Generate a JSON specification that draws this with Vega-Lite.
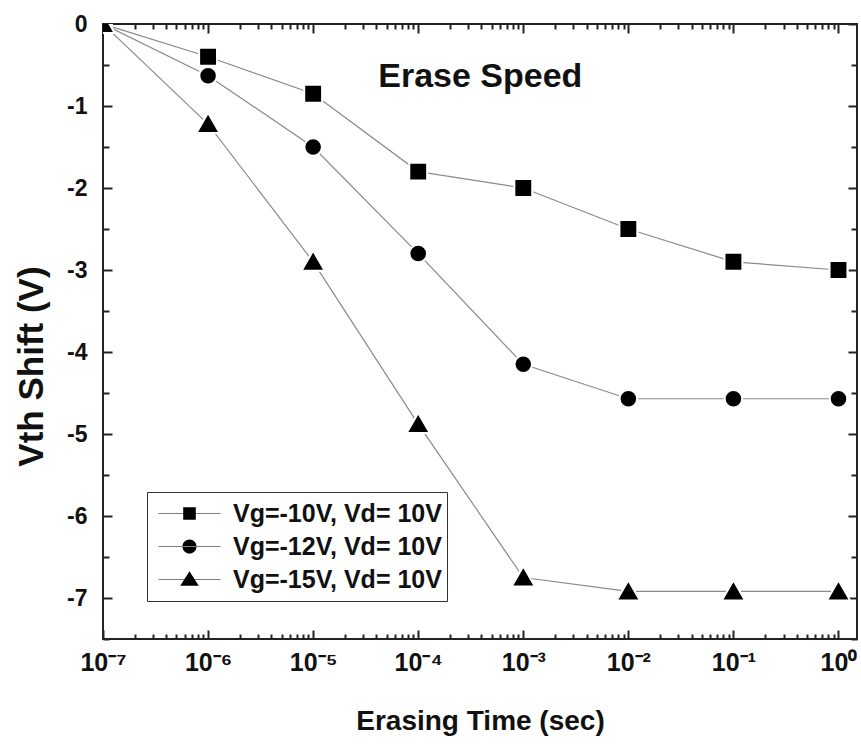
{
  "$schema": "https://vega.github.io/schema/vega-lite/v6.json",
  "width": 754,
  "height": 615,
  "autosize": "none",
  "padding": {"left": 103, "top": 24, "right": 4, "bottom": 110},
  "background": "white",
  "config": {
    "view": {"stroke": "#222", "strokeWidth": 2},
    "font": "Liberation Sans",
    "axis": {"domain": false, "grid": false, "zindex": 1, "tickColor": "#222", "tickWidth": 2, "labelFont": "Liberation Sans", "labelFontWeight": "bold", "labelColor": "#111", "titleFont": "Liberation Sans", "titleFontWeight": "bold", "titleColor": "#111"}
  },
  "datasets": {
    "pts": [
      {"t": 1e-7, "v": 0, "s": "Vg=-10V, Vd= 10V"},
      {"t": 1e-6, "v": -0.4, "s": "Vg=-10V, Vd= 10V"},
      {"t": 1e-5, "v": -0.85, "s": "Vg=-10V, Vd= 10V"},
      {"t": 1e-4, "v": -1.8, "s": "Vg=-10V, Vd= 10V"},
      {"t": 1e-3, "v": -2.0, "s": "Vg=-10V, Vd= 10V"},
      {"t": 1e-2, "v": -2.5, "s": "Vg=-10V, Vd= 10V"},
      {"t": 1e-1, "v": -2.9, "s": "Vg=-10V, Vd= 10V"},
      {"t": 1, "v": -3.0, "s": "Vg=-10V, Vd= 10V"},
      {"t": 1e-7, "v": 0, "s": "Vg=-12V, Vd= 10V"},
      {"t": 1e-6, "v": -0.63, "s": "Vg=-12V, Vd= 10V"},
      {"t": 1e-5, "v": -1.5, "s": "Vg=-12V, Vd= 10V"},
      {"t": 1e-4, "v": -2.8, "s": "Vg=-12V, Vd= 10V"},
      {"t": 1e-3, "v": -4.15, "s": "Vg=-12V, Vd= 10V"},
      {"t": 1e-2, "v": -4.57, "s": "Vg=-12V, Vd= 10V"},
      {"t": 1e-1, "v": -4.57, "s": "Vg=-12V, Vd= 10V"},
      {"t": 1, "v": -4.57, "s": "Vg=-12V, Vd= 10V"},
      {"t": 1e-7, "v": 0, "s": "Vg=-15V, Vd= 10V"},
      {"t": 1e-6, "v": -1.22, "s": "Vg=-15V, Vd= 10V"},
      {"t": 1e-5, "v": -2.9, "s": "Vg=-15V, Vd= 10V"},
      {"t": 1e-4, "v": -4.88, "s": "Vg=-15V, Vd= 10V"},
      {"t": 1e-3, "v": -6.75, "s": "Vg=-15V, Vd= 10V"},
      {"t": 1e-2, "v": -6.92, "s": "Vg=-15V, Vd= 10V"},
      {"t": 1e-1, "v": -6.92, "s": "Vg=-15V, Vd= 10V"},
      {"t": 1, "v": -6.92, "s": "Vg=-15V, Vd= 10V"}
    ],
    "note": [{"t": 0.00039, "v": -0.65, "label": "Erase Speed"}]
  },
  "data": {"name": "pts"},
  "layer": [
    {
      "mark": {"type": "line", "color": "#8a8a8a", "strokeWidth": 1.2, "clip": true},
      "encoding": {
        "x": {"field": "t", "type": "quantitative", "scale": {"type": "log", "domain": [1e-7, 1.5], "nice": false},
          "axis": {"orient": "bottom", "title": "Erasing Time (sec)", "titleFontSize": 28, "titlePadding": 32, "labelFontSize": 25, "labelPadding": 11, "ticks": false,
            "values": [1e-7,1e-6,1e-5,1e-4,1e-3,1e-2,0.1,1],
            "labelExpr": "['10⁰','10⁻¹','10⁻²','10⁻³','10⁻⁴','10⁻⁵','10⁻⁶','10⁻⁷'][-round(log(datum.value)/LN10)]",
            "labelFlush": false, "labelOverlap": false}},
        "y": {"field": "v", "type": "quantitative", "scale": {"domain": [-7.5, 0], "nice": false, "zero": false},
          "axis": {"orient": "left", "title": "Vth Shift (V)", "titleFontSize": 35, "titleAngle": -90, "titleX": -61, "titleY": 342, "titleAlign": "center", "titleBaseline": "alphabetic",
            "labelFontSize": 23, "labelPadding": 16, "ticks": false,
            "values": [-7,-6,-5,-4,-3,-2,-1,0],
            "labelExpr": "'' + round(datum.value)",
            "labelFlush": false, "labelOverlap": false}},
        "detail": {"field": "s", "type": "nominal"}
      }
    },
    {
      "mark": {"type": "point", "filled": true, "color": "black", "opacity": 1, "size": 320, "stroke": "white", "strokeWidth": 2, "strokeOpacity": 1, "clip": true},
      "encoding": {
        "x": {"field": "t", "type": "quantitative", "axis": {"orient": "top", "title": null, "labels": false,
            "values": [1e-7,2e-7,3e-7,4e-7,5e-7,6e-7,7e-7,8e-7,9e-7,1e-6,2e-6,3e-6,4e-6,5e-6,6e-6,7e-6,8e-6,9e-6,1e-5,2e-5,3e-5,4e-5,5e-5,6e-5,7e-5,8e-5,9e-5,1e-4,2e-4,3e-4,4e-4,5e-4,6e-4,7e-4,8e-4,9e-4,1e-3,2e-3,3e-3,4e-3,5e-3,6e-3,7e-3,8e-3,9e-3,1e-2,2e-2,3e-2,4e-2,5e-2,6e-2,7e-2,8e-2,9e-2,0.1,0.2,0.3,0.4,0.5,0.6,0.7,0.8,0.9,1],
            "tickSize": {"condition": {"test": "abs(log(datum.value)/LN10 - round(log(datum.value)/LN10)) < 0.001", "value": -9}, "value": -5}}},
        "y": {"field": "v", "type": "quantitative", "axis": {"orient": "right", "title": null, "labels": false,
            "values": [-7.5,-7,-6.5,-6,-5.5,-5,-4.5,-4,-3.5,-3,-2.5,-2,-1.5,-1,-0.5,0],
            "tickSize": {"condition": {"test": "abs(datum.value - round(datum.value)) < 0.001", "value": -9}, "value": -6}}},
        "shape": {"field": "s", "type": "nominal", "scale": {"domain": ["Vg=-10V, Vd= 10V", "Vg=-12V, Vd= 10V", "Vg=-15V, Vd= 10V"],
          "range": [
            "M-1,-1H1V1H-1Z",
            "M-0.98,0A0.98,0.98 0 1,0 0.98,0A0.98,0.98 0 1,0 -0.98,0Z",
            "M0,-1.25L1.3,1.0L-1.3,1.0Z"
          ]}, "legend": null}
      }
    },
    {
      "mark": {"type": "point", "filled": true, "color": "black", "opacity": 0},
      "encoding": {
        "x": {"field": "t", "type": "quantitative", "axis": {"orient": "bottom", "title": null, "labels": false,
            "values": [1e-7,2e-7,3e-7,4e-7,5e-7,6e-7,7e-7,8e-7,9e-7,1e-6,2e-6,3e-6,4e-6,5e-6,6e-6,7e-6,8e-6,9e-6,1e-5,2e-5,3e-5,4e-5,5e-5,6e-5,7e-5,8e-5,9e-5,1e-4,2e-4,3e-4,4e-4,5e-4,6e-4,7e-4,8e-4,9e-4,1e-3,2e-3,3e-3,4e-3,5e-3,6e-3,7e-3,8e-3,9e-3,1e-2,2e-2,3e-2,4e-2,5e-2,6e-2,7e-2,8e-2,9e-2,0.1,0.2,0.3,0.4,0.5,0.6,0.7,0.8,0.9,1],
            "tickSize": {"condition": {"test": "abs(log(datum.value)/LN10 - round(log(datum.value)/LN10)) < 0.001", "value": -9}, "value": -5}}},
        "y": {"field": "v", "type": "quantitative", "axis": {"orient": "left", "title": null, "labels": false,
            "values": [-7.5,-7,-6.5,-6,-5.5,-5,-4.5,-4,-3.5,-3,-2.5,-2,-1.5,-1,-0.5,0],
            "tickSize": {"condition": {"test": "abs(datum.value - round(datum.value)) < 0.001", "value": -9}, "value": -6}}},
        "shape": {"field": "s", "type": "nominal", "scale": {"domain": ["Vg=-10V, Vd= 10V", "Vg=-12V, Vd= 10V", "Vg=-15V, Vd= 10V"],
          "range": [
            "M-0.84,-0.008H0.84V0.008H-0.84ZM-0.17,-0.17H0.17V0.17H-0.17Z",
            "M-0.84,-0.008H0.84V0.008H-0.84ZM-0.19,0A0.19,0.19 0 1,0 0.19,0A0.19,0.19 0 1,0 -0.19,0Z",
            "M-0.84,-0.008H0.84V0.008H-0.84ZM0,-0.22L0.25,0.17L-0.25,0.17Z"
          ]},
          "legend": {"title": null, "orient": "none", "legendX": 44, "legendY": 468, "symbolSize": 5476, "symbolOpacity": 1, "symbolFillColor": "black", "symbolStrokeColor": "#888", "symbolStrokeWidth": 0.8,
            "labelFont": "Liberation Sans", "labelFontSize": 25, "labelFontWeight": "bold", "labelColor": "#111", "labelOffset": 6, "labelLimit": 400, "rowPadding": 0, "clipHeight": 33,
            "strokeColor": "#333", "fillColor": "white", "padding": 5,
            "encode": {"legend": {"update": {"strokeWidth": {"value": 1.5}}},
                       "symbols": {"update": {"fill": {"value": "black"}, "stroke": {"value": "#888"}, "strokeWidth": {"value": 0.8}, "opacity": {"value": 1}, "fillOpacity": {"value": 1}, "strokeOpacity": {"value": 1}}}}}
        }
      }
    },
    {
      "data": {"name": "note"},
      "mark": {"type": "text", "font": "Liberation Sans", "fontSize": 34, "fontWeight": "bold", "color": "#111", "align": "center", "baseline": "middle"},
      "encoding": {
        "x": {"field": "t", "type": "quantitative", "axis": null},
        "y": {"field": "v", "type": "quantitative", "axis": null},
        "text": {"field": "label", "type": "nominal"}
      }
    }
  ],
  "resolve": {"axis": {"x": "independent", "y": "independent"}, "scale": {"shape": "independent"}}
}
